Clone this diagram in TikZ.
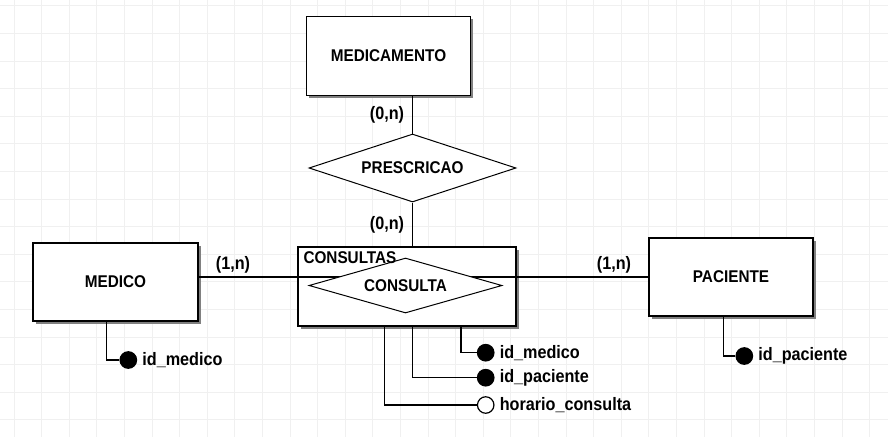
\documentclass[tikz,border=0pt]{standalone}
\usepackage{fontspec}
\newfontfamily\erfont{Liberation Sans}[FakeStretch=0.9]
\usetikzlibrary{shapes.geometric,shadows}

\begin{document}
\begin{tikzpicture}[x=1pt, y=-1pt,
  entity/.style={draw, line width=1.4pt, fill=white, inner sep=0pt, minimum width=164pt, minimum height=79pt, font=\erfont\bfseries\fontsize{17}{20}\selectfont, drop shadow={shadow xshift=2.5pt, shadow yshift=-2.5pt, fill=black!50, opacity=1}},
  relation/.style={diamond, draw, line width=1pt, fill=white, inner sep=0pt, font=\erfont\bfseries\fontsize{17}{20}\selectfont},
  boxtitle/.style={inner sep=0pt, font=\erfont\bfseries\fontsize{17}{20}\selectfont},
  card/.style={inner sep=0pt, font=\erfont\bfseries\fontsize{18}{20}\selectfont},
  link/.style={line width=1.2pt},
  keyattr/.style={circle, draw, line width=1.2pt, fill=black, minimum size=16.5pt, inner sep=0pt},
  attr/.style={keyattr, fill=white},
  attrtext/.style={inner sep=1pt, label distance=4pt, font=\erfont\bfseries\fontsize{18}{20}\selectfont}]
\useasboundingbox (0,0) rectangle (888,437);
% grid
\begin{scope}[shift={(14,5.7)}]
\draw[black!6, line width=0.8pt, step=27.6pt] (-14,-5.7) grid (874,431.3);
\end{scope}
% entities
\node[entity] (medicamento) at (388.5,56) {MEDICAMENTO};
\node[entity, minimum width=165pt, minimum height=78pt] (medico) at (115.5,282) {MEDICO};
\node[entity, minimum height=78pt] (paciente) at (731,277) {PACIENTE};
\node[entity, minimum width=218pt] (consultas) at (407,286.5) {};
\draw[link] (paciente.west) -- (paciente.west -| medico.east);
% relationships
\node[relation, aspect=3.5, minimum width=193pt, minimum height=55pt] (consulta) at (405.5,285.5) {CONSULTA};
\node[relation, aspect=3.04, minimum width=207pt, minimum height=68pt] (prescricao) at (412.5,168) {PRESCRICAO};
\node[boxtitle, anchor=north west] (consultastit) at (303.3,251.7) {CONSULTAS};
\draw[link] (prescricao.north) -- (prescricao.north |- medicamento.south);
\draw[link] (prescricao.south) -- (prescricao.south |- consultas.north);
% cardinalities
\node[card] (cardmedicamento) at (387,115) {(0,n)};
\node[card] (cardconsultas) at (387,225) {(0,n)};
\node[card] (cardmedico) at (233,264.5) {(1,n)};
\node[card] (cardpaciente) at (614,265) {(1,n)};
% attributes
\node[keyattr, label={[attrtext]right:id\_medico}] (idmedico) at (128.3,360) {};
\draw[link] ([xshift=-8.8pt]medico.south) |- (idmedico);
\node[keyattr, label={[attrtext]right:id\_paciente}] (idpaciente) at (744.3,356) {};
\draw[link] ([xshift=-7.7pt]paciente.south) |- (idpaciente);
\node[keyattr, label={[attrtext]right:id\_medico}] (cidmedico) at (485.7,352.7) {};
\draw[link] ([xshift=54pt]consultas.south) |- (cidmedico);
\node[keyattr, label={[attrtext]right:id\_paciente}] (cidpaciente) at (485.7,377.7) {};
\draw[link] ([xshift=5.7pt]consultas.south) |- (cidpaciente);
\node[attr, label={[attrtext]right:horario\_consulta}] (horario) at (485.7,405) {};
\draw[link] ([xshift=-22.7pt]consultas.south) |- (horario);
\end{tikzpicture}
\end{document}
